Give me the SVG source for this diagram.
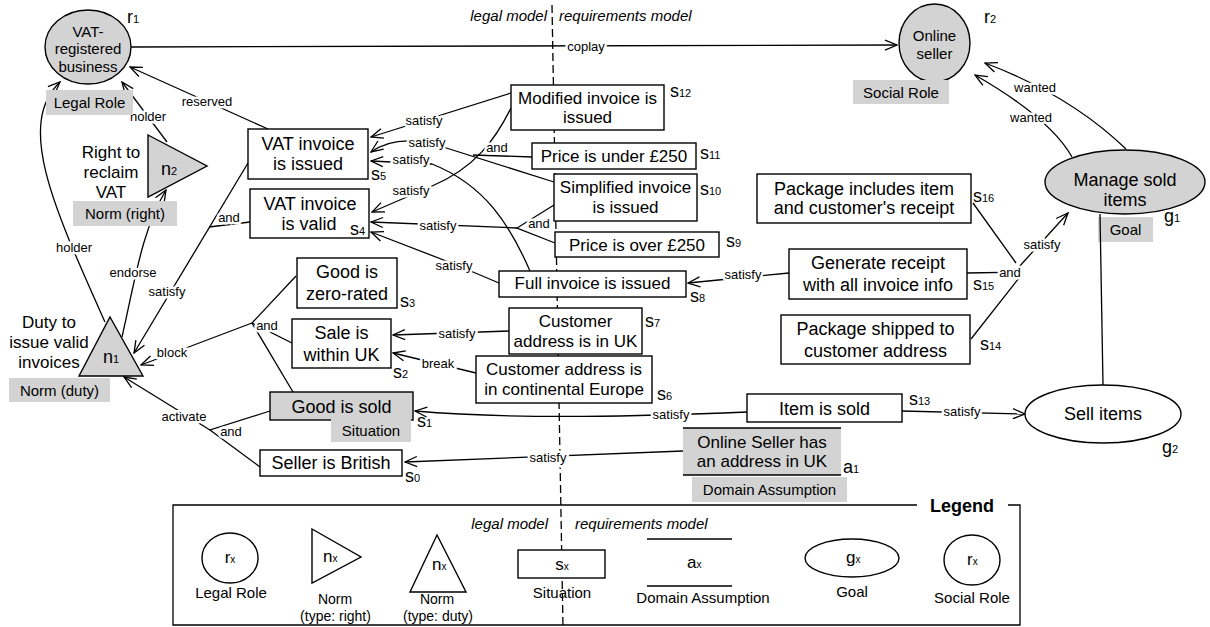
<svg xmlns="http://www.w3.org/2000/svg" width="1210" height="627" viewBox="0 0 1210 627">
<defs>
  <marker id="arrow" markerUnits="userSpaceOnUse" markerWidth="14" markerHeight="12" viewBox="0 0 14 12" refX="13" refY="6" orient="auto">
    <path d="M1,1 L13,6 L1,11" fill="none" stroke="#000" stroke-width="1.3"/>
  </marker>
  <style>
    text { font-family: "Liberation Sans", Arial, Helvetica, sans-serif; fill: #000; }
    .c { text-anchor: middle; }
    .box { fill: #fff; stroke: #000; stroke-width: 1.4; }
    .shade { fill: #d3d3d3; }
    .shape { fill: #d3d3d3; stroke: #000; stroke-width: 1.4; }
    .hollow { fill: #fff; stroke: #000; stroke-width: 1.4; }
    .line { fill: none; stroke: #000; stroke-width: 1.3; }
    .arr { marker-end: url(#arrow); }
    .lbl { font-size: 13px; text-anchor: middle; paint-order: stroke; stroke: #fff; stroke-width: 5px; stroke-linejoin: round; }
    .t18 { font-size: 18px; }
    .t17 { font-size: 17px; }
    .t15 { font-size: 15px; }
    .t14 { font-size: 14px; }
    .id { font-size: 18px; }
    .id tspan { font-size: 11px; }
    .lid { font-size: 17px; }
    .lid tspan { font-size: 10px; }
    .split { fill: none; stroke: #000; stroke-width: 1.3; stroke-dasharray: 8 4; }
    .it { font-size: 15px; font-style: italic; }
  </style>
</defs>

<rect width="1210" height="627" fill="#fff"/>

<!-- boundary between the legal model and the requirements model -->
<g id="boundary">
  <path class="split" d="M552,5 L563,627"/>
  <text class="it" x="547" y="21" text-anchor="end">legal model</text>
  <text class="it" x="559" y="21">requirements model</text>
</g>

<g id="connectors">
  <!-- coplay -->
  <path class="line arr" d="M131,47 L897,45"/>
  <!-- wanted -->
  <path class="line arr" d="M1126,149 Q1070,95 985,63"/>
  <path class="line arr" d="M1072,157 Q1050,118 975,75"/>
  <!-- and: s14, s15, s16 -> satisfy g1 -->
  <path class="line" d="M973,203 L1016,263"/>
  <path class="line" d="M967,273 L1020,272"/>
  <path class="line" d="M971,339 L1019,278"/>
  <path class="line arr" d="M1018,268 L1068,213"/>
  <!-- s15 -> s8 -->
  <path class="line arr" d="M789,273 L688,283"/>
  <!-- s13 -> g2 -->
  <path class="line arr" d="M902,411 L1025,414"/>
  <!-- s13 -> s1 -->
  <path class="line arr" d="M747,412 C650,416 520,420 415,411"/>
  <!-- a1 -> s0 -->
  <path class="line arr" d="M683,451 L405,462"/>
  <!-- s7 -> s2 -->
  <path class="line arr" d="M509,331 L393,335"/>
  <!-- s6 -> s2 (break) -->
  <path class="line arr" d="M476,373 L393,353"/>
  <!-- s8 -> s4 -->
  <path class="line arr" d="M499,283 L454,264 L371,232"/>
  <!-- and: s9, s10 -> s4 -->
  <path class="line" d="M554,205 L517,228 L555,243"/>
  <path class="line arr" d="M517,228 L371,222"/>
  <!-- s12 -> s5 -->
  <path class="line arr" d="M511,93 L371,137"/>
  <!-- s12 -> s4 -->
  <path class="line arr" d="M511,108 C496,138 476,168 430,187 L372,212"/>
  <!-- and: s10, s11 -> s5 -->
  <path class="line" d="M532,157 L473,155"/>
  <path class="line arr" d="M554,182 L440,146 C410,137 388,140 371,152"/>
  <!-- s8 -> s5 -->
  <path class="line arr" d="M530,271 C510,225 485,185 432,164 L371,161"/>
  <!-- reserved -->
  <path class="line arr" d="M268,129 L130,67"/>
  <!-- holder n2 -> r1 -->
  <path class="line arr" d="M167,142 L122,82"/>
  <!-- holder n1 -> r1 -->
  <path class="line arr" d="M105,322 C55,210 15,125 60,82"/>
  <!-- endorse n1 -> n2 -->
  <path class="line arr" d="M122,337 C135,280 142,230 166,190"/>
  <!-- and: s4, s5 -> satisfy n1 -->
  <path class="line arr" d="M248,163 L134,353"/>
  <path class="line" d="M250,222 L209,227"/>
  <!-- and: s1, s2, s3 -> block n1 -->
  <path class="line" d="M296,276 L252,323 L292,343"/>
  <path class="line" d="M252,323 L293,392"/>
  <path class="line arr" d="M252,323 L141,365"/>
  <!-- and: s0, s1 -> activate n1 -->
  <path class="line" d="M270,411 L210,430 L260,467"/>
  <path class="line arr" d="M210,430 L124,377"/>

  <!-- connector labels -->
  <text class="lbl" x="586" y="51">coplay</text>
  <text class="lbl" x="1035" y="92">wanted</text>
  <text class="lbl" x="1031" y="122">wanted</text>
  <text class="lbl" x="1042" y="249">satisfy</text>
  <text class="lbl" x="1010" y="277">and</text>
  <text class="lbl" x="743" y="279">satisfy</text>
  <text class="lbl" x="962" y="416">satisfy</text>
  <text class="lbl" x="671" y="419">satisfy</text>
  <text class="lbl" x="548" y="462">satisfy</text>
  <text class="lbl" x="457" y="338">satisfy</text>
  <text class="lbl" x="438" y="368">break</text>
  <text class="lbl" x="454" y="270">satisfy</text>
  <text class="lbl" x="539" y="228">and</text>
  <text class="lbl" x="438" y="230">satisfy</text>
  <text class="lbl" x="424" y="125">satisfy</text>
  <text class="lbl" x="411" y="195">satisfy</text>
  <text class="lbl" x="497" y="152">and</text>
  <text class="lbl" x="427" y="147">satisfy</text>
  <text class="lbl" x="411" y="164">satisfy</text>
  <text class="lbl" x="207" y="106">reserved</text>
  <text class="lbl" x="148" y="121">holder</text>
  <text class="lbl" x="74" y="252">holder</text>
  <text class="lbl" x="133" y="277">endorse</text>
  <text class="lbl" x="229" y="222">and</text>
  <text class="lbl" x="167" y="296">satisfy</text>
  <text class="lbl" x="267" y="330">and</text>
  <text class="lbl" x="172" y="357">block</text>
  <text class="lbl" x="231" y="436">and</text>
  <text class="lbl" x="184" y="421">activate</text>
</g>

<!-- legal roles and norms -->
<g id="r1">
  <ellipse class="shape" cx="88" cy="47" rx="43" ry="37"/>
  <text class="t15 c" x="88" y="37">VAT-</text>
  <text class="t15 c" x="88" y="54">registered</text>
  <text class="t15 c" x="88" y="72">business</text>
  <text class="id" x="127" y="23">r<tspan>1</tspan></text>
  <rect class="shade" x="46" y="90" width="87" height="25"/>
  <text class="t15 c" x="89.5" y="108">Legal Role</text>
</g>

<g id="n2">
  <polygon class="shape" points="148,135 207,166 148,197"/>
  <text class="id" x="161" y="175">n<tspan>2</tspan></text>
  <text class="t17 c" x="111" y="158">Right to</text>
  <text class="t17 c" x="111" y="178">reclaim</text>
  <text class="t17 c" x="111" y="198">VAT</text>
  <rect class="shade" x="73" y="201" width="104" height="25"/>
  <text class="t15 c" x="125" y="219">Norm (right)</text>
</g>

<g id="n1">
  <polygon class="shape" points="110,317 143,376 79,376"/>
  <text class="id" x="103" y="363">n<tspan>1</tspan></text>
  <text class="t17 c" x="49" y="328">Duty to</text>
  <text class="t17 c" x="49" y="348">issue valid</text>
  <text class="t17 c" x="49" y="368">invoices</text>
  <rect class="shade" x="9" y="378" width="101" height="24"/>
  <text class="t15 c" x="59.5" y="396">Norm (duty)</text>
</g>

<!-- situations of the legal model -->
<g id="s5">
  <rect class="box" x="248" y="129" width="120" height="50"/>
  <text class="t18 c" x="308" y="150">VAT invoice</text>
  <text class="t18 c" x="308" y="170">is issued</text>
  <text class="id" x="371" y="180">s<tspan>5</tspan></text>
</g>

<g id="s4">
  <rect class="box" x="250" y="189" width="119" height="49"/>
  <text class="t18 c" x="310" y="210">VAT invoice</text>
  <text class="t18 c" x="309" y="230">is valid</text>
  <text class="id" x="350" y="235">s<tspan>4</tspan></text>
</g>

<g id="s3">
  <rect class="box" x="297" y="258" width="100" height="50"/>
  <text class="t18 c" x="347" y="278">Good is</text>
  <text class="t18 c" x="347" y="300">zero-rated</text>
  <text class="id" x="400" y="307">s<tspan>3</tspan></text>
</g>

<g id="s2">
  <rect class="box" x="292" y="319" width="99" height="49"/>
  <text class="t18 c" x="341.5" y="339">Sale is</text>
  <text class="t18 c" x="341.5" y="361">within UK</text>
  <text class="id" x="393" y="378">s<tspan>2</tspan></text>
</g>

<g id="s1">
  <rect class="shape" x="270" y="392" width="143" height="28"/>
  <text class="t18 c" x="341.5" y="413">Good is sold</text>
  <rect class="shade" x="331" y="419" width="80" height="23"/>
  <text class="t15 c" x="371" y="436">Situation</text>
  <text class="id" x="417" y="427">s<tspan>1</tspan></text>
</g>

<g id="s0">
  <rect class="box" x="260" y="450" width="142" height="26"/>
  <text class="t18 c" x="331" y="469">Seller is British</text>
  <text class="id" x="405" y="482">s<tspan>0</tspan></text>
</g>

<!-- situations of the requirements model -->
<g id="s12">
  <rect class="box" x="511" y="85" width="153" height="45"/>
  <text class="t17 c" x="587.5" y="104">Modified invoice is</text>
  <text class="t17 c" x="587.5" y="123">issued</text>
  <text class="id" x="670" y="97">s<tspan>12</tspan></text>
</g>

<g id="s11">
  <rect class="box" x="532" y="143" width="164" height="26"/>
  <text class="t17 c" x="614" y="162">Price is under £250</text>
  <text class="id" x="700" y="159">s<tspan>11</tspan></text>
</g>

<g id="s10">
  <rect class="box" x="554" y="174" width="143" height="47"/>
  <text class="t17 c" x="625.5" y="193">Simplified invoice</text>
  <text class="t17 c" x="625.5" y="213">is issued</text>
  <text class="id" x="700" y="195">s<tspan>10</tspan></text>
</g>

<g id="s9">
  <rect class="box" x="555" y="232" width="164" height="25"/>
  <text class="t17 c" x="637" y="251">Price is over £250</text>
  <text class="id" x="726" y="247">s<tspan>9</tspan></text>
</g>

<g id="s8">
  <rect class="box" x="499" y="271" width="187" height="26"/>
  <text class="t17 c" x="592.5" y="289">Full invoice is issued</text>
  <text class="id" x="690" y="302">s<tspan>8</tspan></text>
</g>

<g id="s7">
  <rect class="box" x="509" y="308" width="133" height="46"/>
  <text class="t17 c" x="575.5" y="327">Customer</text>
  <text class="t17 c" x="575.5" y="347">address is in UK</text>
  <text class="id" x="645" y="327">s<tspan>7</tspan></text>
</g>

<g id="s6">
  <rect class="box" x="476" y="356" width="176" height="47"/>
  <text class="t17 c" x="564" y="375">Customer address is</text>
  <text class="t17 c" x="564" y="395">in continental Europe</text>
  <text class="id" x="657" y="400">s<tspan>6</tspan></text>
</g>

<g id="s13">
  <rect class="box" x="747" y="394" width="155" height="28"/>
  <text class="t18 c" x="824.5" y="415">Item is sold</text>
  <text class="id" x="909" y="405">s<tspan>13</tspan></text>
</g>

<g id="a1">
  <rect class="shade" x="683" y="428" width="158" height="47"/>
  <path class="line" d="M683,428 H841 M683,475 H841"/>
  <text class="t17 c" x="762" y="448">Online Seller has</text>
  <text class="t17 c" x="762" y="467">an address in UK</text>
  <text class="id" x="843" y="473">a<tspan>1</tspan></text>
  <rect class="shade" x="692" y="477" width="155" height="25"/>
  <text class="t15 c" x="769.5" y="495">Domain Assumption</text>
</g>

<g id="s16">
  <rect class="box" x="757" y="174" width="214" height="49"/>
  <text class="t18 c" x="864" y="195">Package includes item</text>
  <text class="t18 c" x="864" y="214">and customer's receipt</text>
  <text class="id" x="973" y="202">s<tspan>16</tspan></text>
</g>

<g id="s15">
  <rect class="box" x="789" y="249" width="178" height="50"/>
  <text class="t18 c" x="878" y="269">Generate receipt</text>
  <text class="t18 c" x="878" y="291">with all invoice info</text>
  <text class="id" x="973" y="290">s<tspan>15</tspan></text>
</g>

<g id="s14">
  <rect class="box" x="781" y="315" width="189" height="49"/>
  <text class="t18 c" x="875.5" y="335">Package shipped to</text>
  <text class="t18 c" x="875.5" y="357">customer address</text>
  <text class="id" x="980" y="350">s<tspan>14</tspan></text>
</g>

<!-- social role and goals -->
<g id="r2">
  <ellipse class="shape" cx="934.5" cy="43" rx="35.5" ry="39"/>
  <text class="t15 c" x="934.5" y="41">Online</text>
  <text class="t15 c" x="934.5" y="59">seller</text>
  <text class="id" x="984" y="23">r<tspan>2</tspan></text>
  <rect class="shade" x="853" y="80" width="96" height="24"/>
  <text class="t15 c" x="901" y="98">Social Role</text>
</g>

<g id="g1">
  <ellipse class="shape" cx="1125" cy="182" rx="80" ry="32"/>
  <text class="t18 c" x="1125" y="186">Manage sold</text>
  <text class="t18 c" x="1125" y="206">items</text>
  <text class="id" x="1164" y="222">g<tspan>1</tspan></text>
  <rect class="shade" x="1098" y="217" width="55" height="25"/>
  <text class="t15 c" x="1125.5" y="235">Goal</text>
</g>

<g id="link-g1-g2">
  <path class="line" d="M1100,214 L1103,385"/>
</g>

<g id="g2">
  <ellipse class="hollow" cx="1103" cy="414" rx="78" ry="29"/>
  <text class="t18 c" x="1103" y="420">Sell items</text>
  <text class="id" x="1162" y="453">g<tspan>2</tspan></text>
</g>

<!-- legend -->
<g id="legend">
  <path class="line" d="M917,505 L173,505 L173,625 L1020,625 L1020,505 L1008,505"/>
  <text x="962" y="512" text-anchor="middle" font-size="18" font-weight="bold">Legend</text>
  <text class="it" x="548" y="529" text-anchor="end">legal model</text>
  <text class="it" x="575" y="529">requirements model</text>

  <ellipse class="hollow" cx="230" cy="558" rx="28" ry="25"/>
  <text class="lid c" x="230" y="563">r<tspan>x</tspan></text>
  <text class="t15 c" x="231" y="598">Legal Role</text>

  <polygon class="hollow" points="312,529 361,557 312,583"/>
  <text class="lid" x="323" y="562">n<tspan>x</tspan></text>
  <text class="t14 c" x="335" y="604">Norm</text>
  <text class="t14 c" x="335.5" y="621">(type: right)</text>

  <polygon class="hollow" points="437,535 466,592 410,592"/>
  <text class="lid" x="432" y="570">n<tspan>x</tspan></text>
  <text class="t14 c" x="437" y="604">Norm</text>
  <text class="t14 c" x="438" y="621">(type: duty)</text>

  <rect class="box" x="518" y="550" width="87" height="28"/>
  <text class="lid c" x="562" y="570">s<tspan>x</tspan></text>
  <text class="t15 c" x="562" y="598">Situation</text>

  <path class="line" d="M647,539 H732 M647,586 H732"/>
  <text class="lid" x="687" y="568">a<tspan>x</tspan></text>
  <text class="t15 c" x="703" y="603">Domain Assumption</text>

  <ellipse class="hollow" cx="852" cy="558" rx="47" ry="19"/>
  <text class="lid" x="846" y="563">g<tspan>x</tspan></text>
  <text class="t15 c" x="852" y="597">Goal</text>

  <ellipse class="hollow" cx="972" cy="560" rx="28" ry="25"/>
  <text class="lid" x="967" y="565">r<tspan>x</tspan></text>
  <text class="t15 c" x="972" y="603">Social Role</text>
</g>
</svg>
